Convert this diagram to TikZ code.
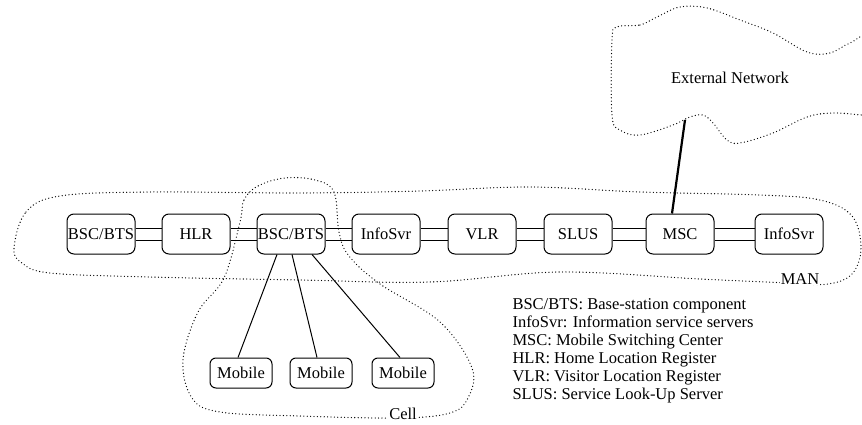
\documentclass[tikz,border=0pt]{standalone}
\usepackage{fontspec}
\setmainfont{Liberation Serif}

\begin{document}
\begin{tikzpicture}[
  % one unit is one point, y runs downward
  x=1pt, y=-1pt,
  font=\fontsize{16.5}{18}\selectfont,
  line width=1pt,
  unit/.style={draw, rounded corners=7pt, minimum width=68pt, minimum height=40pt, inner sep=0pt},
  handset/.style={draw, rounded corners=6pt, minimum width=62pt, minimum height=30pt, inner sep=0pt},
  cloudline/.style={line width=1.3pt, line cap=round, dash pattern=on 0pt off 3.4pt},
  uplink/.style={line width=2.2pt}
]

\clip (0,0) rectangle (862,425);

% 1) Backbone row of the MAN
\node[unit] (bsca) at (101,234) {BSC/BTS};
\node[unit] (hlr)  at (196,234) {HLR};
\node[unit] (bscb) at (291,234) {BSC/BTS};
\node[unit] (infa) at (386,234) {InfoSvr};
\node[unit] (vlr)  at (482,234) {VLR};
\node[unit] (slus) at (578,234) {SLUS};
\node[unit] (msc)  at (680,234) {MSC};
\node[unit] (infb) at (789,234) {InfoSvr};

% double links between neighbours
\draw ([yshift=6pt]bsca.east) -- ([yshift=6pt]hlr.west)  ([yshift=-6pt]bsca.east) -- ([yshift=-6pt]hlr.west);
\draw ([yshift=6pt]hlr.east)  -- ([yshift=6pt]bscb.west) ([yshift=-6pt]hlr.east)  -- ([yshift=-6pt]bscb.west);
\draw ([yshift=6pt]bscb.east) -- ([yshift=6pt]infa.west) ([yshift=-6pt]bscb.east) -- ([yshift=-6pt]infa.west);
\draw ([yshift=6pt]infa.east) -- ([yshift=6pt]vlr.west)  ([yshift=-6pt]infa.east) -- ([yshift=-6pt]vlr.west);
\draw ([yshift=6pt]vlr.east)  -- ([yshift=6pt]slus.west) ([yshift=-6pt]vlr.east)  -- ([yshift=-6pt]slus.west);
\draw ([yshift=6pt]slus.east) -- ([yshift=6pt]msc.west)  ([yshift=-6pt]slus.east) -- ([yshift=-6pt]msc.west);
\draw ([yshift=6pt]msc.east)  -- ([yshift=6pt]infb.west) ([yshift=-6pt]msc.east)  -- ([yshift=-6pt]infb.west);

% 2) Mobiles hanging off the second base station
\node[handset] (moba) at (241,373) {Mobile};
\node[handset] (mobb) at (321,373) {Mobile};
\node[handset] (mobc) at (403,373) {Mobile};
\draw ([xshift=-14pt]bscb.south) -- ([xshift=-3pt]moba.north);
\draw ([xshift=1pt]bscb.south)   -- ([xshift=-4pt]mobb.north);
\draw ([xshift=21pt]bscb.south)  -- ([xshift=-3pt]mobc.north);

% 3) External network cloud, runs off the right edge
\draw[cloudline] plot[smooth cycle, tension=0.6] coordinates {
  (617,27) (640,25) (657,17) (680,7) (707,8) (740,20) (773,33) (807,52)
  (830,53) (850,43) (870,40) (872,115) (862,115) (833,113) (807,117)
  (773,133) (740,143) (727,140) (713,123) (703,115) (690,117) (673,125)
  (640,135) (620,130) (612,115) (612,40)};
\node (extlabel) at (730,78) {External Network};
\coordinate (extnet) at (685,120);
\draw[uplink] ([xshift=-8pt]msc.north) -- (extnet);

% 4) MAN boundary
\draw[cloudline] plot[smooth cycle, tension=0.6] coordinates {
  (14,248) (26,212) (60,196) (150,192) (300,193) (420,191) (530,187)
  (640,192) (760,195) (820,200) (852,216) (861,248) (852,274) (828,284)
  (790,283) (700,279) (560,272) (430,282) (300,280) (150,277) (50,273)
  (22,263)};
\node[fill=white, inner sep=1pt] (manlabel) at (800,279) {MAN};

% 5) Cell boundary
\draw[cloudline] plot[smooth cycle, tension=0.6] coordinates {
  (240,222) (244,200) (258,186) (285,178) (315,180) (334,192) (339,232)
  (349,256) (380,284) (440,322) (472,368) (468,398) (450,413) (400,418)
  (300,416) (220,412) (192,398) (183,360) (198,312) (224,278)};
\node[fill=white, inner sep=1pt] (celllabel) at (403,414) {Cell};

% 6) Legend
\node[anchor=north west, align=left, inner sep=0pt] (legend) at (512,298) {%
  BSC/BTS: Base-station component\\
  InfoSvr: Information service servers\\
  MSC: Mobile Switching Center\\
  HLR: Home Location Register\\
  VLR: Visitor Location Register\\
  SLUS: Service Look-Up Server};

\end{tikzpicture}
\end{document}
